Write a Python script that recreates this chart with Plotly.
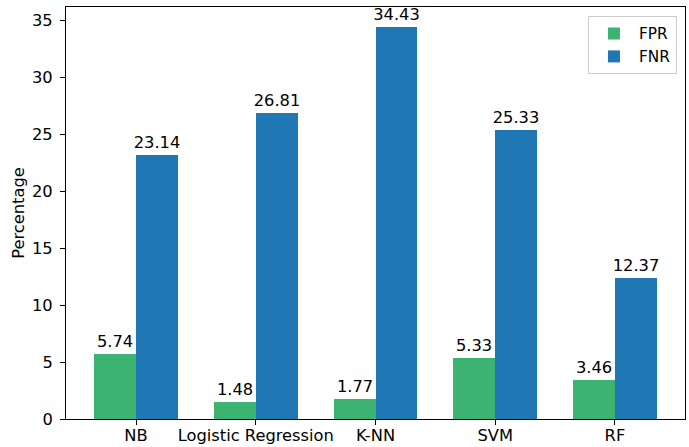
import plotly.graph_objects as go

categories = ["NB", "Logistic Regression", "K-NN", "SVM", "RF"]
fpr = [5.74, 1.48, 1.77, 5.33, 3.46]
fnr = [23.14, 26.81, 34.43, 25.33, 12.37]
y_ticks = [0, 5, 10, 15, 20, 25, 30, 35]

font = "DejaVu Sans"
fs = 16.3
x = list(range(len(categories)))
w = 0.35

fig = go.Figure()
fig.add_trace(go.Bar(
    x=[i - w / 2 for i in x], y=fpr, width=w, name="FPR",
    marker=dict(color="#3cb371", line=dict(width=0)),
    text=[f"{v:.2f}" for v in fpr], textposition="outside",
    textfont=dict(family=font, size=fs, color="black"), cliponaxis=False,
    constraintext="none",
))
fig.add_trace(go.Bar(
    x=[i + w / 2 for i in x], y=fnr, width=w, name="FNR",
    marker=dict(color="#1f77b4", line=dict(width=0)),
    text=[f"{v:.2f}" for v in fnr], textposition="outside",
    textfont=dict(family=font, size=fs, color="black"), cliponaxis=False,
    constraintext="none",
))

fig.update_layout(
    width=689, height=447,
    margin=dict(l=66, r=4, t=7, b=28, autoexpand=False),
    paper_bgcolor="white", plot_bgcolor="white",
    font=dict(family=font, size=fs, color="black"),
    barmode="overlay", bargap=0,
    showlegend=True,
    legend=dict(x=0.987, y=0.978, xanchor="right", yanchor="top",
                bordercolor="#cccccc", borderwidth=1, bgcolor="white",
                font=dict(size=fs - 1), itemwidth=40),
    xaxis=dict(
        range=[-0.585, 4.585], tickvals=x, ticktext=categories,
        showline=True, linecolor="black", linewidth=1, mirror=True,
        ticks="outside", ticklen=5, tickcolor="black", showgrid=False, zeroline=False,
        ticklabelstandoff=-4,
        automargin=False,
    ),
    yaxis=dict(
        range=[0, 36.15], tickvals=y_ticks,
        showline=True, linecolor="black", linewidth=1, mirror=True,
        ticks="outside", ticklen=5, tickcolor="black", showgrid=False, zeroline=False,
        ticklabelstandoff=4,
        title=dict(text="Percentage", standoff=3, font=dict(size=fs)),
        automargin=False,
    ),
)
fig.write_html("out.html", config={"displayModeBar": False},
               post_script="document.body.style.margin='0';document.body.style.overflow='hidden';")
